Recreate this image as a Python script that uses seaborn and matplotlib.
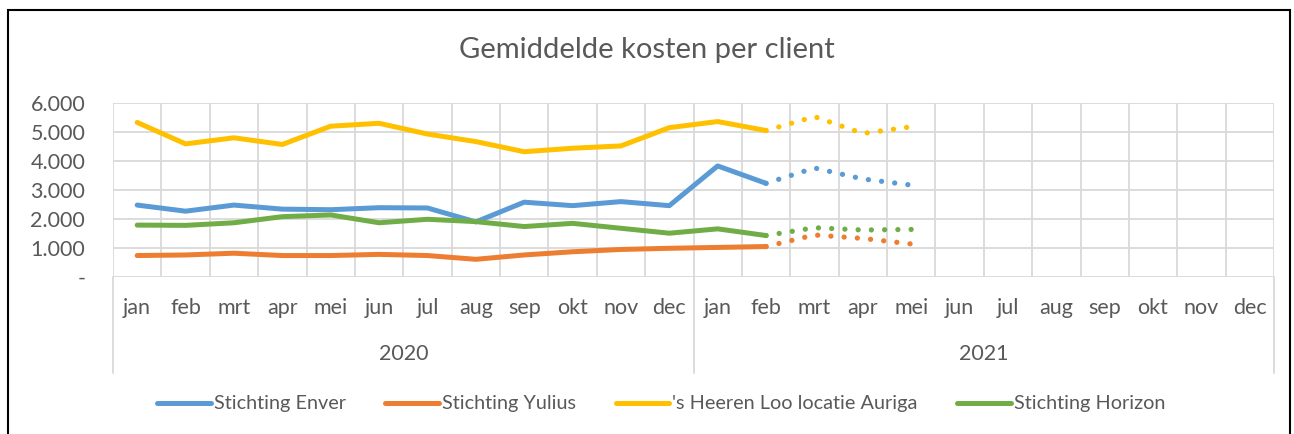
import pandas as pd
import seaborn as sns
import matplotlib.pyplot as plt
from matplotlib.patches import Rectangle
from matplotlib.lines import Line2D

months = ['jan', 'feb', 'mrt', 'apr', 'mei', 'jun', 'jul', 'aug', 'sep', 'okt', 'nov', 'dec'] * 2
years = ['2020', '2021']
series = ['Stichting Enver', 'Stichting Yulius', "'s Heeren Loo locatie Auriga", 'Stichting Horizon']
colors = ['#5B9BD5', '#ED7D31', '#FFC000', '#70AD47']

# realised jan 2020 - feb 2021
enver = [2480, 2270, 2480, 2340, 2320, 2390, 2380, 1900, 2580, 2460, 2600, 2460, 3830, 3230]
yulius = [740, 760, 820, 740, 740, 780, 740, 610, 760, 870, 950, 990, 1020, 1050]
auriga = [5330, 4590, 4800, 4570, 5200, 5300, 4930, 4670, 4320, 4440, 4520, 5150, 5360, 5050]
horizon = [1790, 1780, 1870, 2080, 2140, 1870, 1990, 1910, 1740, 1850, 1680, 1510, 1660, 1430]

# forecast feb 2021 - mei 2021
enver_fc = [3230, 3760, 3380, 3170]
yulius_fc = [1050, 1450, 1330, 1140]
auriga_fc = [5050, 5530, 4950, 5180]
horizon_fc = [1430, 1700, 1620, 1640]

ytick_labels = ['-', '1.000', '2.000', '3.000', '4.000', '5.000', '6.000']

actual = pd.DataFrame({
    'idx': list(range(14)) * 4,
    'value': enver + yulius + auriga + horizon,
    'name': sum([[s] * 14 for s in series], []),
})
forecast = pd.DataFrame({
    'idx': list(range(13, 17)) * 4,
    'value': enver_fc + yulius_fc + auriga_fc + horizon_fc,
    'name': sum([[s] * 4 for s in series], []),
})
palette = dict(zip(series, colors))

sns.set_style('white')
plt.rcParams['font.family'] = ['Lato', 'DejaVu Sans']

fig = plt.figure(figsize=(12.94, 4.34), dpi=100)
ax = fig.add_axes([113 / 1294, 1 - 277 / 434, (1274 - 113) / 1294, 174 / 434])

sns.lineplot(data=actual, x='idx', y='value', hue='name', palette=palette,
             linewidth=3.6, legend=False, ax=ax, solid_capstyle='round', solid_joinstyle='round')
sns.lineplot(data=forecast, x='idx', y='value', hue='name', palette=palette,
             linewidth=3.8, legend=False, ax=ax, linestyle=(0, (0.01, 2.5)), dash_capstyle='round')

ax.set_xlim(-0.5, 23.5)
ax.set_ylim(0, 6000)
ax.set_yticks(range(0, 6001, 1000))
ax.set_yticklabels(ytick_labels)
ax.set_xticks(range(24))
ax.set_xticklabels(months)
ax.set_xticks([i + 0.5 for i in range(-1, 24)], minor=True)
ax.tick_params(axis='both', length=0, labelsize=15.5, colors='#595959')
ax.tick_params(axis='x', pad=15)
ax.tick_params(axis='y', pad=20)
ax.grid(axis='y', color='#d9d9d9', linewidth=1.3)
ax.grid(axis='x', which='minor', color='#d9d9d9', linewidth=1.3)
ax.set_axisbelow(True)
for sp in ax.spines.values():
    sp.set_visible(False)
ax.set_xlabel('')
ax.set_ylabel('')

# year groups below month labels
trans = ax.get_xaxis_transform()
for xs in [-0.5, 11.5, 23.5]:
    ax.plot([xs, xs], [0, -0.55], color='#d9d9d9', linewidth=1.3, transform=trans, clip_on=False)
for i, yr in enumerate(years):
    ax.text(i * 12 + 5.5, -0.44, yr, transform=trans, ha='center', va='center',
            fontsize=15.5, color='#595959')

fig.text(0.5, 1 - 50 / 434, 'Gemiddelde kosten per client', ha='center', va='center',
         fontsize=21, color='#595959')

handles = [Line2D([], [], color=c, linewidth=3.6, solid_capstyle='round') for c in colors]
fig.legend(handles, series, loc='center', bbox_to_anchor=(0.511, 1 - 404 / 434), ncol=4,
           frameon=False, fontsize=14.3, labelcolor='#595959', handlelength=2.7,
           handletextpad=0.15, columnspacing=2.0)

fig.add_artist(Rectangle((8 / 1294, -0.1), 1282 / 1294, 1.1 - 10 / 434, transform=fig.transFigure,
                         fill=False, edgecolor='black', linewidth=1.5))

fig.savefig('out.png', dpi=100)
